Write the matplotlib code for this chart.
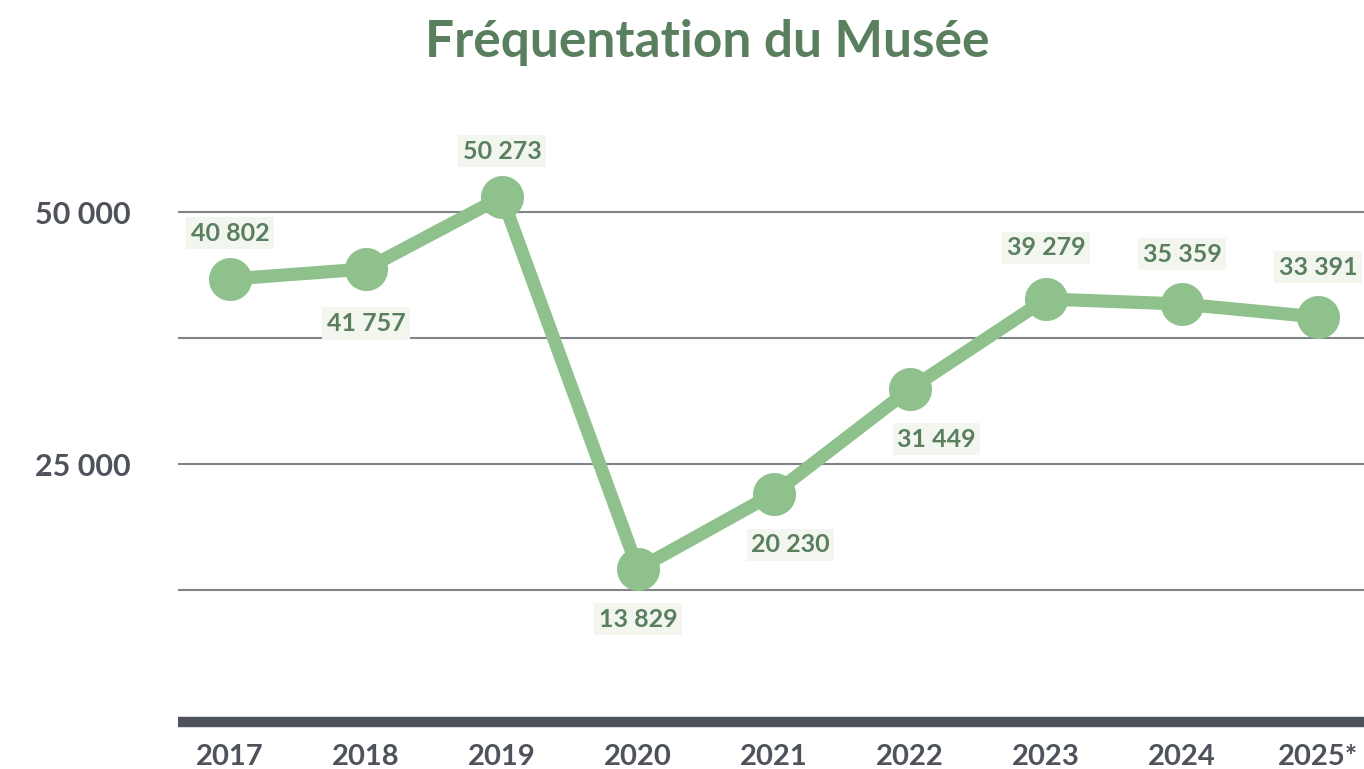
import numpy as np
import matplotlib
matplotlib.use("Agg")
import matplotlib.pyplot as plt

# ---------------------------------------------------------------
# données
# ---------------------------------------------------------------
annees = ["2017", "2018", "2019", "2020", "2021", "2022", "2023", "2024", "2025*"]
visites = [43350, 44350, 51490, 14580, 22070, 32440, 41370, 40870, 39580]
etiquettes = ["40 802", "41 757", "50 273", "13 829", "20 230",
              "31 449", "39 279", "35 359", "33 391"]
ticks_y = [12500, 25000, 37500, 50000]
ticks_y_txt = ["", "25 000", "", "50 000"]

# placement des étiquettes (décalage en points)
decalages = [(0, 33), (0, -39), (0, 33), (0, -36), (12, -37),
             (19, -36), (0, 37), (0, 36), (0, 36)]

VERT = "#8fc18d"
VERT_FONCE = "#5a7f5e"
GRIS = "#4e525a"
GRILLE = "#808388"

plt.rcParams["font.family"] = ["Lato", "DejaVu Sans"]

W, H = 1364, 769
fig = plt.figure(figsize=(W / 100, H / 100), dpi=100)
ax = fig.add_axes([178 / W, (H - 716) / H, 1 - 178 / W, (716 - 100) / H])

# axe du bas : barre épaisse (à régler avant les ticks, set_position les réinitialise)
for s in ["top", "right", "left"]:
    ax.spines[s].set_visible(False)
ax.spines["bottom"].set_position(("outward", 4))
ax.spines["bottom"].set_color(GRIS)
ax.spines["bottom"].set_linewidth(7.5)
ax.spines["bottom"].set_capstyle("butt")

x = np.arange(len(annees))
ax.plot(x, visites, color=VERT, lw=9.5, marker="o", ms=30, mfc=VERT,
        mec=VERT, solid_joinstyle="round", clip_on=False, zorder=3)

for xi, v, txt, (dx, dy) in zip(x, visites, etiquettes, decalages):
    ax.annotate(txt, (xi, v), xytext=(dx, dy), textcoords="offset points",
                ha="center", va="center", fontsize=18, fontweight="bold",
                color=VERT_FONCE, zorder=4,
                bbox=dict(boxstyle="square,pad=0.18", fc="#f3f6ef", ec="none"))

ax.set_xlim(-(230 - 178) / 136, (1364 - 230) / 136)
ax.set_ylim(0, (716 - 100) / 252 * 25000)

ax.set_yticks(ticks_y)
ax.set_yticklabels(ticks_y_txt, fontweight="bold", fontsize=22, color=GRIS)
ax.set_xticks(x)
ax.set_xticklabels(annees, fontweight="bold", fontsize=21, color=GRIS)
ax.tick_params(axis="both", length=0)
ax.tick_params(axis="y", pad=34)
ax.tick_params(axis="x", pad=16)

ax.grid(axis="y", color=GRILLE, lw=1.5)
ax.set_axisbelow(True)

fig.text(707 / W, 1 - 42 / H, "Fréquentation du Musée", ha="center",
         va="center", fontsize=37, fontweight="bold", color=VERT_FONCE)

fig.savefig("out.png", dpi=100)
